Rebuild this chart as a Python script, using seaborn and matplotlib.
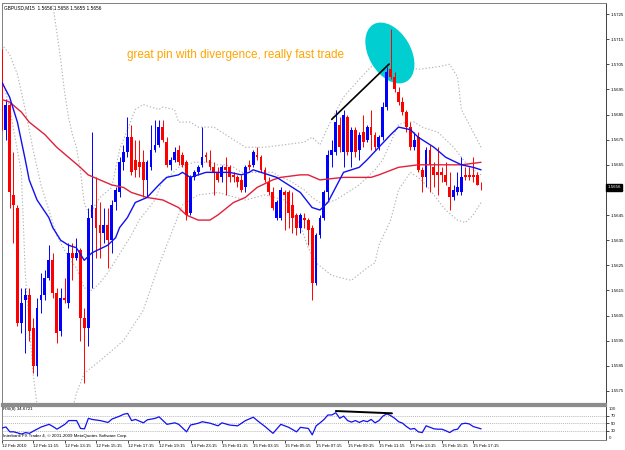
import numpy as np
import pandas as pd
import matplotlib
matplotlib.use("Agg")
import matplotlib.pyplot as plt
import seaborn as sns
from matplotlib.patches import Ellipse
from matplotlib.transforms import IdentityTransform, blended_transform_factory

# ---------------- data (GBPUSD M15) ----------------
opens = [1.5710, 1.5679, 1.5689, 1.5653, 1.5648, 1.5602, 1.5611, 1.5613, 1.5600, 1.5585,
         1.5611, 1.5613, 1.5620, 1.5627, 1.5614, 1.5599, 1.5612, 1.5610, 1.5630, 1.5628,
         1.5631, 1.5604, 1.5600, 1.5644, 1.5648, 1.5641, 1.5638, 1.5641, 1.5635, 1.5650,
         1.5654, 1.5666, 1.5670, 1.5676, 1.5667, 1.5666, 1.5666, 1.5659, 1.5664, 1.5671,
         1.5673, 1.5680, 1.5674, 1.5665, 1.5667, 1.5671, 1.5669, 1.5666, 1.5646, 1.5660,
         1.5662, 1.5665, 1.5669, 1.5667, 1.5664, 1.5662, 1.5660, 1.5664, 1.5664, 1.5661,
         1.5660, 1.5659, 1.5656, 1.5665, 1.5665, 1.5669, 1.5668, 1.5663, 1.5658, 1.5654,
         1.5644, 1.5644, 1.5654, 1.5654, 1.5649, 1.5645, 1.5640, 1.5644, 1.5643, 1.5640,
         1.5618, 1.5637, 1.5644, 1.5654, 1.5669, 1.5670, 1.5681, 1.5670, 1.5684, 1.5670,
         1.5679, 1.5671, 1.5678, 1.5675, 1.5680, 1.5677, 1.5672, 1.5676, 1.5688, 1.5703,
         1.5700, 1.5694, 1.5690, 1.5686, 1.5680, 1.5672, 1.5676, 1.5663, 1.5660, 1.5671,
         1.5664, 1.5662, 1.5662, 1.5661, 1.5656, 1.5652, 1.5654, 1.5654, 1.5661, 1.5661,
         1.5661, 1.5661, 1.5656]
highs = [1.5711, 1.5691, 1.5690, 1.5670, 1.5649, 1.5616, 1.5616, 1.5616, 1.5604, 1.5612,
         1.5622, 1.5623, 1.5633, 1.5630, 1.5616, 1.5616, 1.5620, 1.5634, 1.5634, 1.5636,
         1.5632, 1.5608, 1.5648, 1.5678, 1.5660, 1.5650, 1.5648, 1.5648, 1.5651, 1.5656,
         1.5668, 1.5673, 1.5684, 1.5681, 1.5675, 1.5675, 1.5671, 1.5667, 1.5681, 1.5683,
         1.5683, 1.5683, 1.5676, 1.5668, 1.5672, 1.5673, 1.5670, 1.5667, 1.5661, 1.5663,
         1.5665, 1.5680, 1.5670, 1.5671, 1.5666, 1.5664, 1.5665, 1.5668, 1.5665, 1.5662,
         1.5661, 1.5661, 1.5665, 1.5667, 1.5671, 1.5672, 1.5669, 1.5664, 1.5660, 1.5656,
         1.5651, 1.5656, 1.5655, 1.5655, 1.5654, 1.5646, 1.5646, 1.5646, 1.5644, 1.5641,
         1.5638, 1.5645, 1.5655, 1.5671, 1.5675, 1.5687, 1.5684, 1.5687, 1.5685, 1.5680,
         1.5680, 1.5678, 1.5685, 1.5681, 1.5687, 1.5678, 1.5677, 1.5690, 1.5704, 1.5719,
         1.5702, 1.5696, 1.5692, 1.5687, 1.5682, 1.5678, 1.5678, 1.5664, 1.5672, 1.5673,
         1.5666, 1.5672, 1.5664, 1.5666, 1.5662, 1.5657, 1.5662, 1.5668, 1.5664, 1.5664,
         1.5668, 1.5662, 1.5658]
lows = [1.5679, 1.5675, 1.5648, 1.5634, 1.5601, 1.5598, 1.5590, 1.5595, 1.5582, 1.5581,
        1.5606, 1.5611, 1.5619, 1.5612, 1.5594, 1.5597, 1.5610, 1.5608, 1.5619, 1.5627,
        1.5595, 1.5578, 1.5593, 1.5616, 1.5628, 1.5628, 1.5634, 1.5624, 1.5630, 1.5647,
        1.5652, 1.5663, 1.5668, 1.5661, 1.5660, 1.5660, 1.5652, 1.5652, 1.5663, 1.5670,
        1.5672, 1.5674, 1.5664, 1.5663, 1.5666, 1.5665, 1.5664, 1.5643, 1.5645, 1.5659,
        1.5661, 1.5664, 1.5666, 1.5663, 1.5653, 1.5658, 1.5658, 1.5653, 1.5658, 1.5658,
        1.5656, 1.5654, 1.5654, 1.5663, 1.5664, 1.5667, 1.5662, 1.5658, 1.5653, 1.5647,
        1.5643, 1.5643, 1.5639, 1.5640, 1.5638, 1.5637, 1.5638, 1.5640, 1.5633, 1.5611,
        1.5617, 1.5636, 1.5643, 1.5651, 1.5664, 1.5669, 1.5670, 1.5664, 1.5669, 1.5664,
        1.5668, 1.5667, 1.5672, 1.5674, 1.5671, 1.5671, 1.5671, 1.5675, 1.5687, 1.5699,
        1.5694, 1.5689, 1.5685, 1.5678, 1.5671, 1.5671, 1.5662, 1.5654, 1.5656, 1.5654,
        1.5656, 1.5653, 1.5658, 1.5657, 1.5647, 1.5651, 1.5653, 1.5653, 1.5659, 1.5659,
        1.5658, 1.5657, 1.5655]
closes = [1.5680, 1.5689, 1.5654, 1.5649, 1.5602, 1.5610, 1.5613, 1.5599, 1.5585, 1.5608,
          1.5613, 1.5620, 1.5627, 1.5614, 1.5598, 1.5612, 1.5611, 1.5630, 1.5628, 1.5630,
          1.5604, 1.5600, 1.5644, 1.5649, 1.5640, 1.5638, 1.5641, 1.5635, 1.5649, 1.5655,
          1.5666, 1.5670, 1.5676, 1.5662, 1.5663, 1.5664, 1.5659, 1.5666, 1.5671, 1.5673,
          1.5680, 1.5675, 1.5665, 1.5667, 1.5670, 1.5666, 1.5665, 1.5645, 1.5660, 1.5662,
          1.5664, 1.5668, 1.5668, 1.5664, 1.5662, 1.5659, 1.5664, 1.5663, 1.5660, 1.5660,
          1.5658, 1.5655, 1.5664, 1.5664, 1.5670, 1.5668, 1.5663, 1.5659, 1.5654, 1.5648,
          1.5650, 1.5655, 1.5653, 1.5646, 1.5644, 1.5640, 1.5645, 1.5643, 1.5639, 1.5618,
          1.5637, 1.5644, 1.5654, 1.5669, 1.5671, 1.5682, 1.5672, 1.5685, 1.5670, 1.5679,
          1.5670, 1.5677, 1.5674, 1.5680, 1.5677, 1.5672, 1.5676, 1.5688, 1.5702, 1.5700,
          1.5695, 1.5690, 1.5686, 1.5680, 1.5672, 1.5675, 1.5663, 1.5660, 1.5671, 1.5665,
          1.5661, 1.5661, 1.5661, 1.5658, 1.5652, 1.5655, 1.5656, 1.5660, 1.5660, 1.5660,
          1.5660, 1.5657, 1.5656]

# indicator readings (bar index, value)
fast_ma_idx = [0, 2, 4, 6, 7, 9, 12, 13, 15, 17, 19, 21, 23, 27, 29, 30, 32, 34, 37, 40, 42, 45, 46, 47,
               48, 50, 52, 55, 58, 61, 63, 64, 66, 70, 73, 76, 79, 81, 83, 85, 87, 91, 93, 96, 99,
               101, 104, 106, 110, 113, 117, 120, 122]
fast_ma_val = [1.5698, 1.5692, 1.5682, 1.5667, 1.5659, 1.5651, 1.5644, 1.5640, 1.5635, 1.5633, 1.5632,
               1.5627, 1.5630, 1.5633, 1.5636, 1.5640, 1.5644, 1.5650, 1.5652, 1.5657, 1.5660, 1.5661,
               1.5662, 1.5661, 1.5660, 1.5661, 1.5662, 1.5662, 1.5662, 1.5661, 1.5662, 1.5663, 1.5662,
               1.5660, 1.5657, 1.5654, 1.5648, 1.5647, 1.5650, 1.5656, 1.5662, 1.5664, 1.5667, 1.5672,
               1.5677, 1.5680, 1.5679, 1.5676, 1.5672, 1.5668, 1.5665, 1.5664, 1.5663]
slow_ma_idx = [0, 2, 5, 7, 11, 14, 17, 20, 22, 25, 28, 31, 33, 37, 41, 45, 47, 50, 53, 55, 59, 62, 65,
               69, 71, 76, 78, 81, 87, 94, 96, 101, 106, 111, 117, 122]
slow_ma_val = [1.5691, 1.5690, 1.5686, 1.5682, 1.5677, 1.5672, 1.5668, 1.5664, 1.5661, 1.5659, 1.5657,
               1.5656, 1.5654, 1.5652, 1.5651, 1.5648, 1.5645, 1.5643, 1.5643, 1.5645, 1.5650, 1.5652,
               1.5656, 1.5659, 1.5660, 1.5661, 1.5661, 1.5659, 1.5660, 1.5660, 1.5661, 1.5664, 1.5665,
               1.5665, 1.5665, 1.5666]
band_up_idx = [0, 1, 5, 9, 11, 13, 15, 16, 17, 18, 19, 20, 21, 22, 23, 25, 28, 30, 32, 34, 36, 38, 40,
               41, 44, 45, 48, 50, 54, 58, 62, 67, 72, 77, 79, 81, 83, 87, 91, 94, 99, 103, 106, 111,
               114, 116, 117, 120, 122]
band_up_val = [1.5727, 1.5733, 1.5750, 1.5758, 1.5746, 1.5729, 1.5707, 1.5694, 1.5684, 1.5677, 1.5672,
               1.5663, 1.5650, 1.5646, 1.5647, 1.5652, 1.5656, 1.5671, 1.5679, 1.5687, 1.5689, 1.5688,
               1.5687, 1.5688, 1.5687, 1.5682, 1.5682, 1.5680, 1.5680, 1.5676, 1.5672, 1.5672, 1.5673,
               1.5674, 1.5676, 1.5673, 1.5680, 1.5692, 1.5699, 1.5704, 1.5706, 1.5704, 1.5703, 1.5704,
               1.5705, 1.5700, 1.5687, 1.5678, 1.5672]
band_mid_idx = [0, 2, 4, 6, 8, 10, 12, 14, 16, 18, 19, 21, 23, 25, 27, 29, 31, 33, 35, 37, 39, 41, 43,
                45, 47, 49, 51, 53, 55, 57, 59, 61, 63, 65, 67, 69, 71, 73, 75, 77, 79, 81, 83, 85, 87,
                89, 91, 93, 95, 97, 99, 101, 103, 105, 107, 109, 111, 113, 115, 117, 119, 121, 122]
band_mid_val = [1.5713, 1.5709, 1.5701, 1.5687, 1.5671, 1.5657, 1.5647, 1.5637, 1.5631, 1.5626, 1.5624,
                1.5616, 1.5615, 1.5618, 1.5622, 1.5627, 1.5632, 1.5637, 1.5643, 1.5647, 1.5651, 1.5659,
                1.5661, 1.5664, 1.5665, 1.5666, 1.5666, 1.5666, 1.5665, 1.5665, 1.5664, 1.5662, 1.5662,
                1.5662, 1.5662, 1.5662, 1.5660, 1.5659, 1.5657, 1.5655, 1.5652, 1.5650, 1.5650, 1.5651,
                1.5653, 1.5655, 1.5657, 1.5660, 1.5663, 1.5667, 1.5674, 1.5681, 1.5682, 1.5682, 1.5680,
                1.5679, 1.5678, 1.5675, 1.5672, 1.5668, 1.5664, 1.5662, 1.5661]
band_dn_idx = [0, 2, 5, 6, 8, 11, 15, 19, 21, 25, 31, 36, 40, 46, 50, 55, 62, 67, 72, 76, 78, 80, 84,
               89, 93, 95, 96, 99, 101, 104, 106, 108, 110, 113, 116, 118, 120, 122]
band_dn_val = [1.5700, 1.5688, 1.5662, 1.5622, 1.5582, 1.5544, 1.5548, 1.5574, 1.5582, 1.5587, 1.5595,
               1.5607, 1.5625, 1.5649, 1.5653, 1.5654, 1.5651, 1.5653, 1.5651, 1.5641, 1.5632, 1.5626,
               1.5621, 1.5619, 1.5624, 1.5626, 1.5633, 1.5643, 1.5655, 1.5662, 1.5660, 1.5657, 1.5653,
               1.5647, 1.5643, 1.5642, 1.5645, 1.5650]
rsi_idx = [0, 1, 2, 3, 5, 6, 7, 8, 10, 12, 13, 14, 16, 17, 19, 20, 21, 22, 23, 25, 27, 28, 30, 31, 32,
           33, 34, 36, 37, 39, 40, 42, 44, 45, 47, 48, 50, 51, 53, 55, 56, 58, 60, 62, 64, 65, 67, 69,
           71, 73, 75, 76, 78, 79, 80, 81, 82, 83, 84, 85, 86, 87, 88, 89, 90, 91, 92, 93, 94, 95, 96,
           97, 98, 99, 100, 101, 102, 103, 104, 105, 106, 107, 108, 109, 110, 111, 112, 113, 114, 115,
           116, 117, 118, 119, 120, 122]
rsi_val = [37, 40, 27, 27, 21, 25, 23, 29, 40, 47, 41, 34, 47, 57, 57, 36, 35, 63, 60, 57, 52, 61, 69,
           74, 76, 57, 60, 51, 59, 63, 67, 47, 51, 47, 27, 45, 50, 54, 50, 43, 51, 45, 43, 57, 66, 57,
           41, 23, 47, 39, 27, 39, 36, 19, 43, 51, 60, 72, 72, 78, 63, 69, 57, 53, 57, 52, 57, 54, 60,
           51, 57, 69, 75, 70, 63, 54, 50, 41, 34, 36, 27, 25, 43, 39, 35, 34, 34, 30, 25, 32, 34, 48,
           50, 48, 41, 35]

date_tick_idx = list(range(0, 121, 8))
date_labels = ["12 Feb 2010", "12 Feb 11:15", "12 Feb 13:15", "12 Feb 15:15", "12 Feb 17:15",
               "12 Feb 19:15", "14 Feb 23:15", "15 Feb 01:15", "15 Feb 03:15", "15 Feb 05:15",
               "15 Feb 07:15", "15 Feb 09:15", "15 Feb 11:15", "15 Feb 13:15", "15 Feb 15:15",
               "15 Feb 17:15"]
price_ticks = [1.5575, 1.5585, 1.5595, 1.5605, 1.5615, 1.5625, 1.5635, 1.5645, 1.5655,
               1.5665, 1.5675, 1.5685, 1.5695, 1.5705, 1.5715, 1.5725]
last_price = 1.5656

# annotations
trend_price_x = [84, 98.6]
trend_price_y = [1.56831, 1.57051]
trend_rsi_x = [85, 99.3]
trend_rsi_y = [82.5, 76.4]
note_text = "great pin with divergence, really fast trade"
note_x, note_y = 31.9, 1.57074
ellipse_x, ellipse_y = 98.8, 1.57095

# ---------------- styling ----------------
sns.set_theme(style="white")
plt.rcParams['font.family'] = ['Liberation Sans', 'DejaVu Sans']

W, H = 625, 450
fig = plt.figure(figsize=(W / 100, H / 100), dpi=100)
fig.patch.set_facecolor('white')
ax = fig.add_axes([2 / W, 1 - 404 / H, 604 / W, 401 / H])
axr = fig.add_axes([2 / W, 1 - 440 / H, 604 / W, 34 / H])

XLIM = (0.08, 153.8)
for a in (ax, axr):
    a.set_xlim(*XLIM)
    a.set_facecolor('white')
    a.grid(False)
ax.set_ylim(1.55698, 1.57294)
axr.set_ylim(5.2, 95.9)

o = np.array(opens); h = np.array(highs); l = np.array(lows); c = np.array(closes)
idx = np.arange(len(o))
cols = np.where(c > o, '#0000FF', '#FF0000')

# Bollinger bands (dotted)
band_style = dict(color='#B4B4B4', lw=0.8, linestyle=(0, (1.2, 1.8)))
ax.plot(band_up_idx, band_up_val, **band_style, zorder=1)
ax.plot(band_mid_idx, band_mid_val, **band_style, zorder=1)
ax.plot(band_dn_idx, band_dn_val, **band_style, zorder=1)

# ellipse highlight (drawn in pixel units around a data point)
fig.canvas.draw()
cx, cy = ax.transData.transform((ellipse_x, ellipse_y))
ell = Ellipse((cx, cy), width=66, height=42, angle=-60, transform=IdentityTransform(),
              facecolor='#00CED1', edgecolor='none', zorder=2)
ax.add_artist(ell)

# candles
ax.vlines(idx, l, h, colors=cols, linewidth=0.7, zorder=3)
body_bot = np.minimum(o, c)
body_h = np.maximum(np.abs(c - o), 0.00003)
ax.bar(idx, body_h, bottom=body_bot, width=0.72, color=cols, linewidth=0, zorder=4)

# moving averages
fast_df = pd.DataFrame({'i': fast_ma_idx, 'v': fast_ma_val})
slow_df = pd.DataFrame({'i': slow_ma_idx, 'v': slow_ma_val})
sns.lineplot(data=slow_df, x='i', y='v', ax=ax, color='#E0203C', lw=1.0, estimator=None, zorder=5)
sns.lineplot(data=fast_df, x='i', y='v', ax=ax, color='#1010F0', lw=1.0, estimator=None, zorder=6)

# trend line & note
ax.plot(trend_price_x, trend_price_y, color='black', lw=1.2, zorder=7)
ax.text(note_x, note_y, note_text, color='#FFA500', fontsize=8.5, ha='left', va='baseline',
        family=['Liberation Sans', 'DejaVu Sans'], zorder=8)

# axes cosmetics main
ax.set_xlabel(''); ax.set_ylabel('')
ax.yaxis.tick_right()
ax.set_yticks(price_ticks)
ax.set_yticklabels([f"{v:.4f}" for v in price_ticks])
ax.tick_params(axis='y', which='both', right=True, left=False, length=2, width=0.5,
               labelsize=3.2, pad=1.5, colors='black')
ax.set_xticks([])
for side, sp in ax.spines.items():
    sp.set_visible(True)
    sp.set_color('#808080')
    sp.set_linewidth(0.7)
ax.spines['right'].set_color('#404040')
ax.spines['bottom'].set_linewidth(1.6)
ax.spines['bottom'].set_color('#8C8C8C')

ax.text(2 / 604, 1 - 2.5 / 401, "GBPUSD,M15  1.5656 1.5658 1.5655 1.5656", transform=ax.transAxes,
        fontsize=3.4, ha='left', va='top', color='black')
ax.text(1.002, last_price, f"{last_price:.4f}", transform=blended_transform_factory(ax.transAxes, ax.transData),
        fontsize=3.2, ha='left', va='center', color='white', clip_on=False,
        bbox=dict(boxstyle='square,pad=0.35', facecolor='black', edgecolor='black'))

# RSI pane
rsi_df = pd.DataFrame({'i': rsi_idx, 'v': rsi_val})
for lvl in (30, 50, 70):
    axr.axhline(lvl, color='#A0A0A0', lw=0.5, linestyle=(0, (1.5, 1.5)), zorder=1)
sns.lineplot(data=rsi_df, x='i', y='v', ax=axr, color='#1010F0', lw=0.9, estimator=None, zorder=3)
axr.plot(trend_rsi_x, trend_rsi_y, color='black', lw=1.4, zorder=4)
axr.set_xlabel(''); axr.set_ylabel('')
axr.yaxis.tick_right()
axr.set_yticks([30, 50, 70])
axr.set_yticklabels(['30', '50', '70'])
axr.tick_params(axis='y', right=True, left=False, length=2, width=0.5, labelsize=3.2, pad=1.5, colors='black')
axr.text(1.0 + 3 / 604, (440 - 409) / 34, "100", transform=axr.transAxes, fontsize=3.2, va='center', ha='left')
axr.text(1.0 + 3 / 604, (440 - 438) / 34, "0", transform=axr.transAxes, fontsize=3.2, va='center', ha='left')
axr.set_xticks(date_tick_idx)
axr.set_xticklabels(date_labels, ha='left')
axr.tick_params(axis='x', bottom=True, length=2, width=0.5, labelsize=3.2, pad=1.2, colors='black')
for side, sp in axr.spines.items():
    sp.set_visible(True)
    sp.set_color('#808080')
    sp.set_linewidth(0.7)
axr.spines['right'].set_color('#404040')
axr.spines['top'].set_linewidth(1.6)
axr.spines['top'].set_color('#8C8C8C')
axr.text(1 / 604, (440 - 409) / 34, "RSI(8) 34.6721", transform=axr.transAxes, fontsize=3.2,
         ha='left', va='center', color='black')
axr.text(1 / 604, (440 - 436.5) / 34, "Interbank FX Trader 4, \u00a9 2001-2009 MetaQuotes Software Corp.",
         transform=axr.transAxes, fontsize=3.2, ha='left', va='center', color='black')

fig.savefig("out.png", dpi=100, facecolor='white')
